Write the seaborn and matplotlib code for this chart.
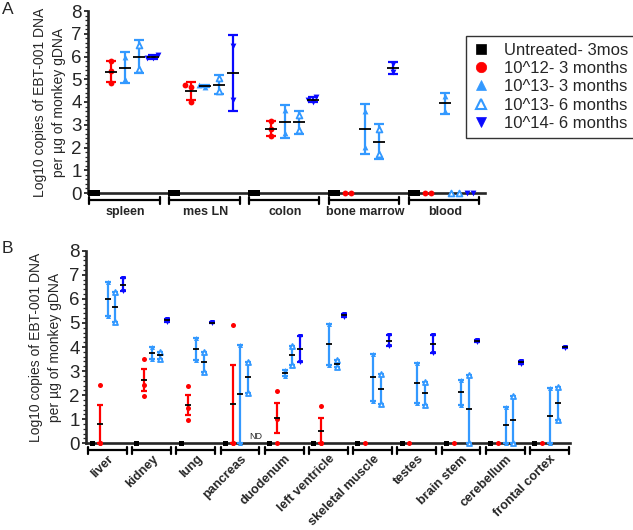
import numpy as np
import pandas as pd
import matplotlib
matplotlib.use("Agg")
import matplotlib.pyplot as plt
from matplotlib.lines import Line2D
from matplotlib.ticker import MultipleLocator
import seaborn as sns

sns.set_style("ticks")
plt.rcParams["font.family"] = ["Liberation Sans", "DejaVu Sans"]

# ---------------- data ----------------
series = ["Untreated- 3mos", "10^12- 3 months", "10^13- 3 months",
          "10^13- 6 months", "10^14- 6 months"]
colors = ["#000000", "#ff0000", "#3399ff", "#3399ff", "#0a0aff"]
markers = ["s", "o", "^", "^", "v"]
filled = [True, True, True, False, True]

tissues_a = ["spleen", "mes LN", "colon", "bone marrow", "blood"]
a_untreated = [[0, 0], [0, 0], [0, 0], [0, 0], [0, 0]]
a_e12_3m = [[5.81, 5.36, 4.85], [4.75, 4.68, 4.02], [3.15, 2.82, 2.52], [0, 0], [0, 0]]
a_e13_3m = [[6.0, 5.03], [4.75, 4.67], [3.65, 2.62], [3.6, 2.04], [4.25, 3.62]]
a_e13_6m = [[6.5, 5.47], [5.05, 4.47], [3.45, 2.75], [2.8, 1.72], [0, 0]]
a_e14_6m = [[6.07, 5.92, 5.95], [6.45, 4.08], [4.22, 4.0, 4.1], [5.68, 5.3], [0, 0]]

tissues_b = ["liver", "kidney", "lung", "pancreas", "duodenum", "left ventricle",
             "skeletal muscle", "testes", "brain stem", "cerebellum", "frontal cortex"]
b_untreated = [[0]] * 11
b_e12_3m = [[2.41, 0, 0], [3.52, 2.41, 1.97], [2.39, 1.45, 0.98], [4.9, 0, 0],
            [2.18, 0.99, 0], [1.56, 0, 0], [0], [0], [0], [0], [0]]
b_e13_3m = [[6.7, 5.27], [4.02, 3.5], [4.38, 3.48], [4.1, 0], [3.03, 2.78],
            [4.97, 3.27], [3.72, 1.77], [3.35, 1.66], [2.65, 1.61], [1.5, 0], [2.3, 0]]
b_e13_6m = [[6.28, 5.02], [3.8, 3.5], [3.78, 2.95], [3.38, 2.1], [4.05, 3.25],
            [3.45, 3.15], [2.86, 1.63], [2.55, 1.6], [2.82, 0], [1.97, 0], [2.35, 0.97]]
b_e14_6m = [[6.87, 6.32], [5.17, 5.05], [5.05, 4.98], [], [4.45, 3.38],
            [5.36, 5.26], [4.5, 4.03], [4.5, 3.75], [4.3, 4.2], [3.42, 3.3], [4.02, 3.96]]

y_ticks = [0, 1, 2, 3, 4, 5, 6, 7, 8]
ylabel = "Log10 copies of EBT-001 DNA\nper µg of monkey gDNA"

GAP = 5.7  # group spacing in slot units


def long_df(tissues, per_series):
    rows = []
    for si, vals in enumerate(per_series):
        for ti, v in enumerate(vals):
            for x in v:
                rows.append({"tissue": tissues[ti], "ti": ti, "si": si,
                             "series": series[si], "value": x,
                             "pos": ti * GAP + si})
    return pd.DataFrame(rows)


df_a = long_df(tissues_a, [a_untreated, a_e12_3m, a_e13_3m, a_e13_6m, a_e14_6m])
df_b = long_df(tissues_b, [b_untreated, b_e12_3m, b_e13_3m, b_e13_6m, b_e14_6m])

W, H = 633, 530
fig = plt.figure(figsize=(W / 100, H / 100), dpi=100)


def px_axes(l, r, t, b):
    return fig.add_axes([l / W, 1 - b / H, (r - l) / W, (b - t) / H])


ax_a = px_axes(88, 485, 11, 193)
ax_b = px_axes(86, 570, 250.7, 443.3)


def draw_panel(ax, df, tissues, kind, msize, err, mean_len, cap, xlim,
               label_rot, ax_h_px):
    for si in range(5):
        sub = df[df.si == si]
        if sub.empty:
            continue
        n0 = len(ax.collections)
        kw = dict(data=sub, x="pos", y="value", native_scale=True, orient="x",
                  color=colors[si], marker=markers[si], size=msize, ax=ax,
                  clip_on=False, zorder=4, linewidth=0)
        if kind == "swarm":
            sns.swarmplot(warn_thresh=1, **kw)
        else:
            sns.stripplot(jitter=False, **kw)
        for coll in ax.collections[n0:]:
            if not filled[si]:
                coll.set_facecolor("white")
                coll.set_edgecolor(colors[si])
                coll.set_linewidth(1.3)
        # mean and error bars
        stats = sub.groupby("pos")["value"].agg(["mean", "std", "count", "sem", "max"])
        for pos, r in stats.iterrows():
            if r["count"] < 2 or r["max"] == 0:
                continue
            e = r["std"] if err == "sd" else r["sem"]
            ax.errorbar(pos, r["mean"], yerr=e, fmt="none", ecolor=colors[si],
                        elinewidth=1.6, capsize=cap, capthick=1.6, zorder=3)
            ax.plot([pos], [r["mean"]], marker="_", color="black",
                    markersize=mean_len, mew=1.3, zorder=5, linestyle="none")
    ax.set_xlim(*xlim)
    ax.set_ylim(0, 8)
    ax.set_yticks(y_ticks)
    ax.yaxis.set_minor_locator(MultipleLocator(0.2))
    ax.set_xticks([])
    ax.set_xlabel("")
    ax.set_ylabel("")
    for s in ["top", "right"]:
        ax.spines[s].set_visible(False)
    for s in ["left", "bottom"]:
        ax.spines[s].set_linewidth(1.9)
    ax.tick_params(axis="y", which="major", labelsize=13.5, length=3, width=1.3, pad=1.5)
    ax.tick_params(axis="y", which="minor", length=2, width=0.9)
    ax.tick_params(axis="x", which="both", length=0)
    # brackets and labels
    tr = ax.get_xaxis_transform()
    yb = -7 / ax_h_px
    dc = 3.5 / ax_h_px
    for ti, name in enumerate(tissues):
        x0 = ti * GAP - 0.55
        x1 = ti * GAP + 4.45
        ax.plot([x0, x1], [yb, yb], color="black", lw=1.6, transform=tr, clip_on=False)
        for xx in (x0, x1):
            ax.plot([xx, xx], [yb - dc, yb + dc], color="black", lw=1.6,
                    transform=tr, clip_on=False)
        xc = ti * GAP + 2.0
        if label_rot:
            ax.text(xc, -9.5 / ax_h_px, name, transform=tr, rotation=45,
                    rotation_mode="anchor", ha="right", va="top",
                    fontsize=9.2, fontweight="bold")
        else:
            ax.text(xc, -19 / ax_h_px, name, transform=tr, ha="center",
                    va="center", fontsize=9, fontweight="bold")


draw_panel(ax_a, df_a, tissues_a, "swarm", 4.2, "sd", 8, 3.5,
           (-0.65, 4 * GAP + 4.85), False, 182)
draw_panel(ax_b, df_b, tissues_b, "strip", 3.6, "se", 5, 2.5,
           (-0.8, 10 * GAP + 4.6), True, 192.6)

ax_a.set_ylabel(ylabel, fontsize=10, linespacing=1.45)
ax_a.yaxis.set_label_coords((66 - 88) / 397, 0.5)
ax_b.set_ylabel(ylabel, fontsize=10, linespacing=1.45)
ax_b.yaxis.set_label_coords((62 - 86) / 484, 0.5)

# ND marker for pancreas 10^14
ax_b.text(3 * GAP + 4, 0.08, "ND", fontsize=6.5, ha="center", va="bottom")

# panel letters
fig.text(2 / W, 1 - 2 / H, "A", fontsize=12.5, ha="left", va="top")
fig.text(2 / W, 1 - 241 / H, "B", fontsize=12.5, ha="left", va="top")

# legend
handles = []
for si in range(5):
    handles.append(Line2D([], [], linestyle="none", marker=markers[si],
                          markersize=7.5,
                          markerfacecolor=colors[si] if filled[si] else "white",
                          markeredgecolor=colors[si],
                          markeredgewidth=1.5 if not filled[si] else 0.5))
leg = fig.legend(handles, series, loc="upper left",
                 bbox_to_anchor=(466 / W, 1 - 36 / H), frameon=True,
                 fancybox=False, edgecolor="black", fontsize=12,
                 borderpad=0.4, handlelength=1.0, handletextpad=0.85,
                 labelspacing=0.2, borderaxespad=0)
leg.get_frame().set_linewidth(1.0)

fig.savefig("out.png", dpi=100)
